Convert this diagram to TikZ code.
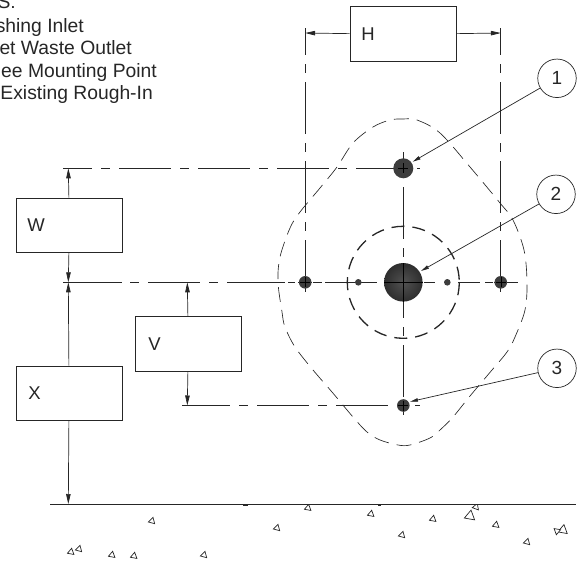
\documentclass[tikz,border=0pt]{standalone}
\usepackage{fontspec}
\setmainfont{Liberation Sans}
\usetikzlibrary{arrows.meta}
\definecolor{ink}{gray}{0.15}
\definecolor{ball}{gray}{0.24}
\tikzset{
 x=1pt,y=-1pt,
 every node/.style={text=ink},
 dim/.style={draw=ink,line width=0.8pt,fill=white,font=\fontsize{18.5}{18.5}\selectfont,inner xsep=#1,inner ysep=0pt,text width={106pt-2*#1},align=left,minimum height=54.5pt,anchor=north west},
 lbl/.style={font=\fontsize{19.3}{19.3}\selectfont,anchor=base east,inner sep=0pt},
 ctr/.style={draw=ink,line width=0.8pt},
 per/.style={ctr,dash pattern=on 52pt off 9pt on 9pt off 9pt,dash phase=#1},
 arr/.style={draw=ink,line width=0.7pt,-{Triangle[length=10pt,width=4.5pt]}},
 lead/.style={draw=ink,line width=0.7pt,-{Triangle[length=8pt,width=3.5pt]}},
 callout/.style={circle,draw=ink,line width=0.7pt,minimum size=38.5pt,inner sep=0pt,font=\fontsize{19}{19}\selectfont},
 outline/.style={draw=ink,line width=0.65pt,dash pattern=on 15pt off 8pt},
 ring/.style={draw=ink,line width=1.3pt,dash pattern=on 13pt off 8pt},
 tri/.style={draw=ink,line width=0.7pt,fill=white},
}
\begin{document}
\begin{tikzpicture}
\useasboundingbox (0,0) rectangle (578,562);
\clip (0,0) rectangle (578,562);
% notes
\node[lbl] (n0) at (16,8.5) {S:};
\node[lbl] (n1) at (84,32) {shing Inlet};
\node[lbl] (n2) at (132,54) {et Waste Outlet};
\node[lbl] (n3) at (157,77) {ee Mounting Point};
\node[lbl] (n4) at (153,99) {Existing Rough-In};
% key coordinates
\coordinate (c) at (403.3,282.3);
\coordinate (top) at (403.3,168.3);
\coordinate (bot) at (403.3,405.5);
\coordinate (lft) at (305.2,282.3);
\coordinate (rgt) at (500.8,282.3);
\coordinate (dl) at (358.3,282.3);
\coordinate (dr) at (447.3,282.3);
% outline
\draw[outline] plot[smooth cycle,tension=0.55] coordinates {(403,119) (417,120) (440,133) (470,167) (500,203) (513,220) (524,250) (527,282) (525,310) (515,337) (507,352) (492,370) (470,396) (453,417) (440,430) (430,438) (410,445) (398,445) (380,440) (367,432) (353,417) (332,392) (313,370) (295,347) (285,327) (282,312) (278,282) (280,257) (290,228) (300,212) (320,188) (337,167) (353,143) (373,127) (390,120)};
\draw[ring] (c) circle (56);
% centre lines
\draw[per=23] (63,168.3) -- (420,168.3);
\draw[ctr] (63,282.3)--(122,282.3) (130,282.3)--(139,282.3) (148,282.3)--(200,282.3) (209,282.3)--(218,282.3) (227,282.3)--(285,282.3) (288,282.3)--(295,282.3) (298,282.3)--(312,282.3) (313,282.3)--(322,282.3) (325,282.3)--(377,282.3) (424,282.3)--(435,282.3) (458,282.3)--(480,282.3) (485,282.3)--(493,282.3) (494,282.3)--(518,282.3);
\draw[per=4] (182,405.5) -- (420,405.5);
\draw[per=25] (305.2,28) -- (305.2,295);
\draw[per=25] (500.8,28) -- (500.8,295);
\draw[per=44] (403.3,152) -- (403.3,418);
% balls
\fill[ball] (top) circle (10);
\shade[shading=radial,inner color=black!68,outer color=black!82] (c) circle (19.3);
\fill[ball] (bot) circle (6.3);
\fill[ball] (lft) circle (6.3);
\fill[ball] (rgt) circle (6.3);
\fill[ball] (dl) circle (3.3);
\fill[ball] (dr) circle (3.3);
\draw[black,line width=0.5pt] (398.3,168.3)--(408.3,168.3) (403.3,163.3)--(403.3,173.3) (398.3,405.5)--(408.3,405.5) (403.3,400.5)--(403.3,410.5)
 (300.2,282.3)--(310.2,282.3) (305.2,277.3)--(305.2,287.3) (495.8,282.3)--(505.8,282.3) (500.8,277.3)--(500.8,287.3);
\draw[black,line width=0.8pt] (384,282.3)--(422.6,282.3) (403.3,263)--(403.3,301.6);
% ground
\draw[ink,line width=1pt] (50,504) -- (576,504);
\draw[ink,line width=0.8pt] (243,505) -- (248,505) (378,505) -- (381,505);
% dimension boxes
\node[dim=11.3pt] (H) at (349.7,6) {H};
\node[dim=11.5pt] (W) at (15.5,197.7) {W};
\node[dim=13.5pt] (V) at (134.5,316) {V};
\node[dim=12.5pt] (X) at (15.5,365.7) {X};
\coordinate (hl) at (305.2,33);
\coordinate (hr) at (500.8,33);
\coordinate (wt) at (68.3,168.3);
\coordinate (wb) at (68.3,282.3);
\coordinate (xb) at (68.3,504);
\coordinate (vt) at (187.3,282.3);
\coordinate (vb) at (187.3,405.5);
\draw[arr] (H.west) -- (hl);
\draw[arr] (H.east) -- (hr);
\draw[arr] (W.north) -- (wt);
\draw[arr] (W.south) -- (wb);
\draw[arr] (X.north) -- (wb);
\draw[arr] (X.south) -- (xb);
\draw[arr] (V.north) -- (vt);
\draw[arr] (V.south) -- (vb);
% callouts
\node[callout] (k1) at (557,78.3) {1};
\node[callout] (k2) at (556,194.3) {2};
\node[callout] (k3) at (557,368.3) {3};
\coordinate (t1) at (412.7,161.7);
\coordinate (t2) at (421,271);
\coordinate (t3) at (410,401.7);
\draw[lead] (k1) -- (t1);
\draw[lead] (k2) -- (t2);
\draw[lead] (k3) -- (t3);
% aggregate
\begin{scope}
\clip (0,505) rectangle (578,558);
\foreach \x/\y/\s/\a in {308/508/3.8/-80,371/514/3.8/-80,433/519/3.8/-80,476/507/3.8/170,470/516/6/-80,496/525/3.8/-80,563/530/5.5/-80,557/531/3.8/-140,527/542/3.8/165,402/535/3.8/165,277/528/3.8/165,152/521/3.8/165,71/552/3.8/-80,79/549/3.8/165,112/555/3.8/-80,134/556/3.8/-80,204/555/3.8/165}{
  \draw[tri,shift={(\x,\y)}] (\a:\s) -- ({\a+120}:\s) -- ({\a+240}:\s) -- cycle;
}
\end{scope}
\end{tikzpicture}
\end{document}
